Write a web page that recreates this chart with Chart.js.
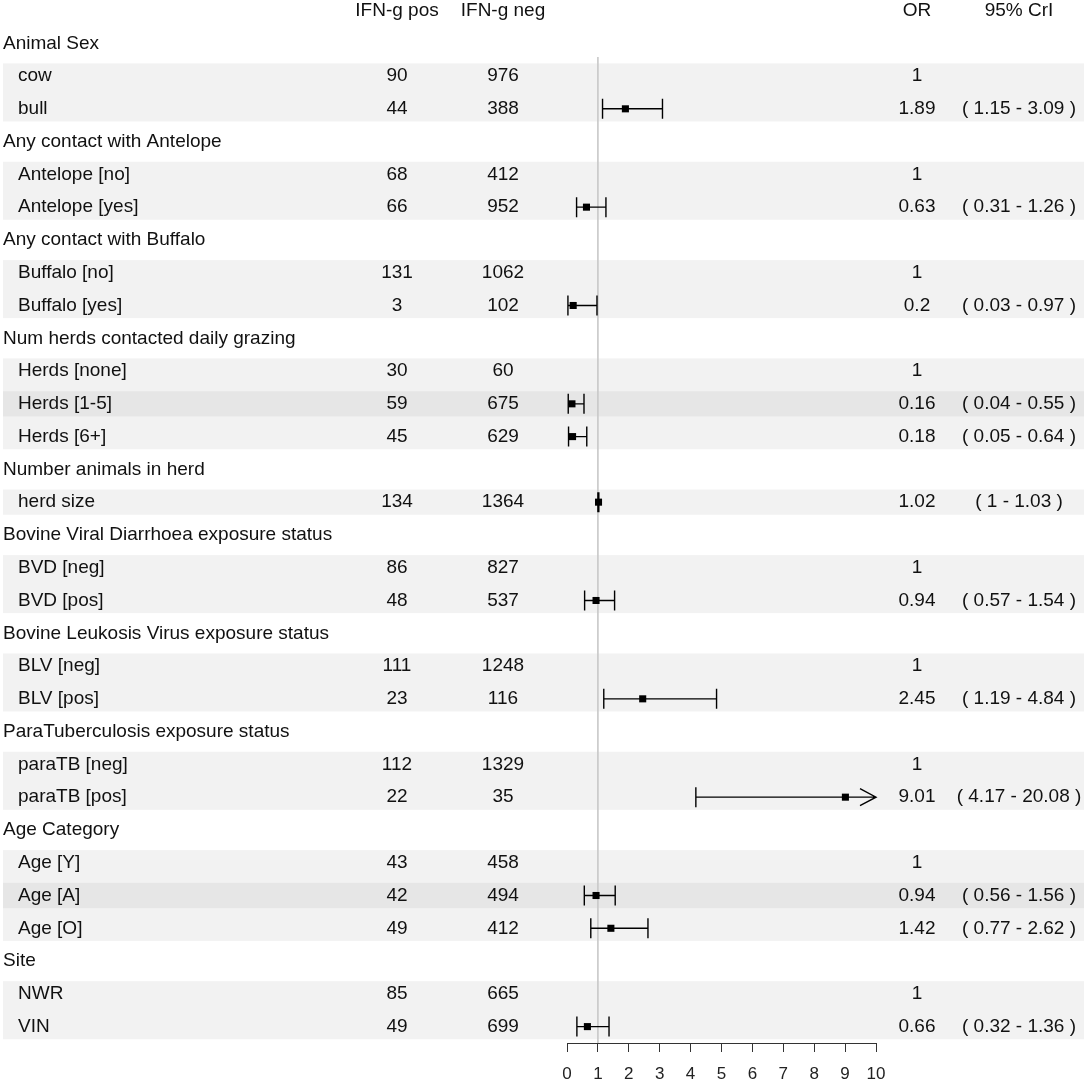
<!DOCTYPE html>
<html>
<head>
<meta charset="utf-8">
<script src="https://cdn.jsdelivr.net/npm/chart.js@4"></script>
<style>
  html, body { margin: 0; padding: 0; background: #ffffff; }
  #wrap { width: 1084px; height: 1084px; }
</style>
</head>
<body>
<div id="wrap"><canvas id="c" width="1084" height="1084"></canvas></div>
<script>
// ---------- data ----------
const columnHeaders = ['IFN-g pos', 'IFN-g neg', 'OR', '95% CrI'];
const groupTitles = [
  'Animal Sex',
  'Any contact with Antelope',
  'Any contact with Buffalo',
  'Num herds contacted daily grazing',
  'Number animals in herd',
  'Bovine Viral Diarrhoea exposure status',
  'Bovine Leukosis Virus exposure status',
  'ParaTuberculosis exposure status',
  'Age Category',
  'Site'
];
const itemGroup = [0,0, 1,1, 2,2, 3,3,3, 4, 5,5, 6,6, 7,7, 8,8,8, 9,9];
const itemLabels = [
  'cow', 'bull',
  'Antelope [no]', 'Antelope [yes]',
  'Buffalo [no]', 'Buffalo [yes]',
  'Herds [none]', 'Herds [1-5]', 'Herds [6+]',
  'herd size',
  'BVD [neg]', 'BVD [pos]',
  'BLV [neg]', 'BLV [pos]',
  'paraTB [neg]', 'paraTB [pos]',
  'Age [Y]', 'Age [A]', 'Age [O]',
  'NWR', 'VIN'
];
const ifnPos = [90, 44, 68, 66, 131, 3, 30, 59, 45, 134, 86, 48, 111, 23, 112, 22, 43, 42, 49, 85, 49];
const ifnNeg = [976, 388, 412, 952, 1062, 102, 60, 675, 629, 1364, 827, 537, 1248, 116, 1329, 35, 458, 494, 412, 665, 699];
const oddsRatio = [1, 1.89, 1, 0.63, 1, 0.2, 1, 0.16, 0.18, 1.02, 1, 0.94, 1, 2.45, 1, 9.01, 1, 0.94, 1.42, 1, 0.66];
const ciLower = [null, 1.15, null, 0.31, null, 0.03, null, 0.04, 0.05, 1, null, 0.57, null, 1.19, null, 4.17, null, 0.56, 0.77, null, 0.32];
const ciUpper = [null, 3.09, null, 1.26, null, 0.97, null, 0.55, 0.64, 1.03, null, 1.54, null, 4.84, null, 20.08, null, 1.56, 2.62, null, 1.36];
const xMin = 0, xMax = 10, xStep = 1;
const refLine = 1;

// ---------- layout (rows) ----------
const groupRow = [];
const itemRow = [];
let r = 1;
groupTitles.forEach((t, g) => {
  groupRow[g] = r++;
  itemGroup.forEach((gi, i) => { if (gi === g) itemRow[i] = r++; });
});
const lastRow = r - 1;

const points = [];
itemLabels.forEach((l, i) => {
  if (ciLower[i] !== null) points.push({ x: oddsRatio[i], y: itemRow[i] });
});

const FONT = '"Liberation Sans", Arial, sans-serif';
const TXT = '#111111';

const tablePlugin = {
  id: 'forestTable',
  beforeDraw(chart) {
    const ctx = chart.ctx;
    const ys = chart.scales.y;
    const W = chart.width;
    const h = 0.385;
    ctx.save();
    groupTitles.forEach((t, g) => {
      const rowsIn = [];
      itemGroup.forEach((gi, i) => { if (gi === g) rowsIn.push(itemRow[i]); });
      const first = Math.min(...rowsIn), last = Math.max(...rowsIn);
      const y1 = ys.getPixelForValue(first - h), y2 = ys.getPixelForValue(last + h);
      ctx.fillStyle = '#f2f2f2';
      ctx.fillRect(3, y1, W - 3, y2 - y1);
      if (rowsIn.length === 3) {
        const mid = rowsIn[1];
        const m1 = ys.getPixelForValue(mid - h), m2 = ys.getPixelForValue(mid + h);
        ctx.fillStyle = '#e6e6e6';
        ctx.fillRect(3, m1, W - 3, m2 - m1);
      }
    });
    ctx.restore();
  },
  beforeDatasetsDraw(chart) {
    const ctx = chart.ctx;
    const xs = chart.scales.x, ys = chart.scales.y;
    ctx.save();
    // reference line
    const xr = xs.getPixelForValue(refLine);
    ctx.strokeStyle = '#c8c8c8';
    ctx.lineWidth = 1.6;
    ctx.beginPath();
    ctx.moveTo(xr, ys.getPixelForValue(1.42));
    ctx.lineTo(xr, chart.chartArea.bottom);
    ctx.stroke();
    // CI whiskers
    ctx.strokeStyle = '#000';
    ctx.lineWidth = 1.4;
    itemLabels.forEach((l, i) => {
      if (ciLower[i] === null) return;
      const y = ys.getPixelForValue(itemRow[i]);
      const x1 = xs.getPixelForValue(Math.max(ciLower[i], xMin));
      const over = ciUpper[i] > xMax;
      const x2 = xs.getPixelForValue(Math.min(ciUpper[i], xMax));
      ctx.beginPath();
      ctx.moveTo(x1, y); ctx.lineTo(x2, y);
      ctx.moveTo(x1, y - 10); ctx.lineTo(x1, y + 10);
      if (over) {
        ctx.moveTo(x2 - 16, y - 8.5); ctx.lineTo(x2, y); ctx.lineTo(x2 - 16, y + 8.5);
      } else {
        ctx.moveTo(x2, y - 10); ctx.lineTo(x2, y + 10);
      }
      ctx.stroke();
    });
    ctx.restore();
  },
  afterDraw(chart) {
    const ctx = chart.ctx;
    const ys = chart.scales.y;
    const colX = [397, 503, 917, 1019];
    ctx.save();
    ctx.font = '19px ' + FONT;
    ctx.fillStyle = TXT;
    ctx.textBaseline = 'middle';
    // column headers
    ctx.textAlign = 'center';
    const y0 = ys.getPixelForValue(0);
    columnHeaders.forEach((t, k) => ctx.fillText(t, colX[k], y0));
    // group titles
    ctx.textAlign = 'left';
    groupTitles.forEach((t, g) => ctx.fillText(t, 3, ys.getPixelForValue(groupRow[g])));
    // items
    itemLabels.forEach((l, i) => {
      const y = ys.getPixelForValue(itemRow[i]);
      ctx.textAlign = 'left';
      ctx.fillText(l, 18, y);
      ctx.textAlign = 'center';
      ctx.fillText(String(ifnPos[i]), colX[0], y);
      ctx.fillText(String(ifnNeg[i]), colX[1], y);
      ctx.fillText(String(oddsRatio[i]), colX[2], y);
      if (ciLower[i] !== null) {
        ctx.fillText('( ' + ciLower[i] + ' - ' + ciUpper[i] + ' )', colX[3], y);
      }
    });
    ctx.restore();
  }
};

new Chart(document.getElementById('c'), {
  type: 'scatter',
  data: {
    datasets: [{
      data: points,
      pointStyle: 'rect',
      pointRadius: 5,
      pointHoverRadius: 5,
      backgroundColor: '#000',
      borderColor: '#000',
      borderWidth: 0,
      clip: false
    }]
  },
  options: {
    responsive: false,
    animation: false,
    events: [],
    layout: { autoPadding: false, padding: { left: 567, right: 208, top: 0, bottom: 0 } },
    plugins: { legend: { display: false }, tooltip: { enabled: false } },
    scales: {
      x: {
        type: 'linear',
        min: xMin, max: xMax,
        afterFit(scale) { scale.height = 41; },
        ticks: { stepSize: xStep, color: '#222', font: { size: 17, family: FONT }, padding: 12, maxRotation: 0 },
        grid: { drawOnChartArea: false, drawTicks: true, tickLength: 9, color: '#333', lineWidth: 1 },
        border: { display: true, color: '#333', width: 1 }
      },
      y: {
        type: 'linear',
        display: false,
        reverse: true,
        min: -0.32, max: lastRow + 0.5
      }
    }
  },
  plugins: [tablePlugin]
});
</script>
</body>
</html>
